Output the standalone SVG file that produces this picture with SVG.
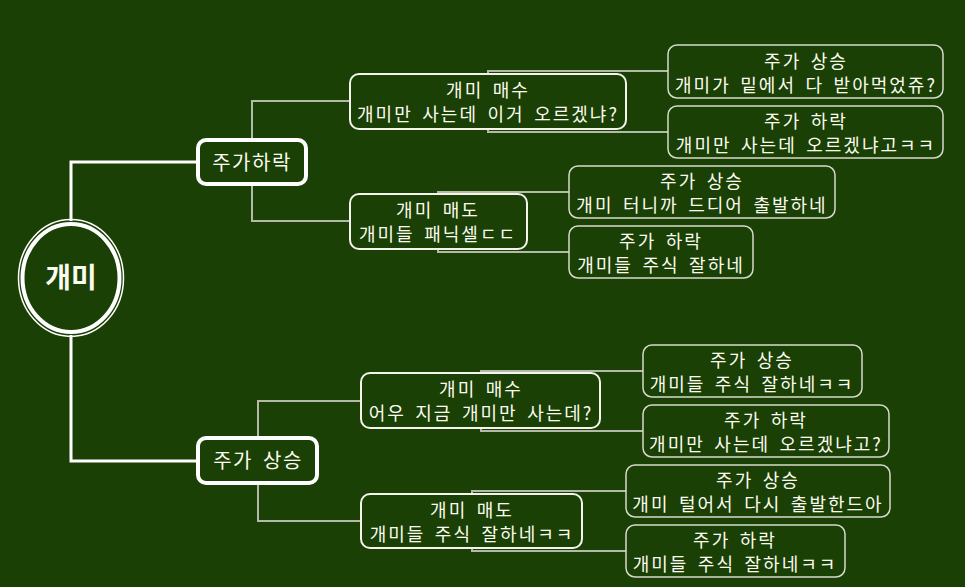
<svg xmlns="http://www.w3.org/2000/svg" width="965" height="587" viewBox="0 0 965 587">
<style>
text{font-family:"Noto Sans CJK KR","Noto Sans",sans-serif;fill:#fbfbf0;text-anchor:middle;dominant-baseline:central}
.t{font-size:18px;letter-spacing:2px;word-spacing:3.5px}
.t1{font-size:20px;letter-spacing:1.5px;word-spacing:4px}
.root{font-size:28px;font-weight:bold}
.b1{fill:#1a4005;stroke:#ffffff;stroke-width:4}
.b2{fill:#1a4005;stroke:#f4f4ec;stroke-width:2}
.b3{fill:#1a4005;stroke:#d6dacb;stroke-width:1.5}
.c0{fill:none;stroke:#ffffff;stroke-width:3}
.c1{fill:none;stroke:#b4baa8;stroke-width:2}
</style>
<rect width="965" height="587" fill="#1a4005"/>
<g id="connectors">
<path class="c0" d="M71,221V162H198M71,335V461H198"/>
<path class="c1" d="M252,140V101H350M252,184V221H350M258,438V401H361M258,483V521H361"/>
<path class="c1" d="M488,74V71H668M488,129V132H668M438,194V192H569M438,249V252H569M481,373V371H643M481,428V431H643M472,494V491H626M472,548V551H626"/>
</g>
<g id="root">
<ellipse cx="71" cy="278" rx="52.5" ry="58.5" fill="none" stroke="#ffffff" stroke-width="1.5"/>
<ellipse cx="71" cy="278" rx="48.5" ry="54" fill="#1a4005" stroke="#ffffff" stroke-width="4"/>
<text class="root" x="71" y="276">개미</text>
</g>
<g id="n-down">
<rect class="b1" x="198" y="140" width="108" height="44" rx="8"/>
<text class="t1" x="252" y="161">주가하락</text>
</g>
<g id="n-up">
<rect class="b1" x="198" y="438" width="119" height="45" rx="8"/>
<text class="t1" x="258" y="459">주가 상승</text>
</g>
<g id="n-down-buy">
<rect class="b2" x="350" y="74" width="276" height="55" rx="9"/>
<text class="t" x="488" y="89">개미 매수</text>
<text class="t" x="488" y="113">개미만 사는데 이거 오르겠냐?</text>
</g>
<g id="n-down-sell">
<rect class="b2" x="350" y="194" width="177" height="55" rx="9"/>
<text class="t" x="438" y="209">개미 매도</text>
<text class="t" x="438" y="233">개미들 패닉셀ㄷㄷ</text>
</g>
<g id="n-up-buy">
<rect class="b2" x="361" y="373" width="239" height="55" rx="9"/>
<text class="t" x="481" y="388">개미 매수</text>
<text class="t" x="481" y="412">어우 지금 개미만 사는데?</text>
</g>
<g id="n-up-sell">
<rect class="b2" x="361" y="494" width="221" height="54" rx="9"/>
<text class="t" x="472" y="509">개미 매도</text>
<text class="t" x="472" y="533">개미들 주식 잘하네ㅋㅋ</text>
</g>
<g id="a1">
<rect class="b3" x="668" y="45" width="275" height="53" rx="9"/>
<text class="t" x="806" y="60">주가 상승</text>
<text class="t" x="806" y="84">개미가 밑에서 다 받아먹었쥬?</text>
</g>
<g id="a2">
<rect class="b3" x="668" y="106" width="275" height="52" rx="9"/>
<text class="t" x="806" y="120">주가 하락</text>
<text class="t" x="806" y="144">개미만 사는데 오르겠냐고ㅋㅋ</text>
</g>
<g id="b1">
<rect class="b3" x="569" y="166" width="266" height="52" rx="9"/>
<text class="t" x="702" y="180">주가 상승</text>
<text class="t" x="702" y="204">개미 터니까 드디어 출발하네</text>
</g>
<g id="b2">
<rect class="b3" x="569" y="226" width="184" height="52" rx="9"/>
<text class="t" x="661" y="240">주가 하락</text>
<text class="t" x="661" y="264">개미들 주식 잘하네</text>
</g>
<g id="c1">
<rect class="b3" x="643" y="345" width="219" height="52" rx="9"/>
<text class="t" x="752" y="359">주가 상승</text>
<text class="t" x="752" y="383">개미들 주식 잘하네ㅋㅋ</text>
</g>
<g id="c2">
<rect class="b3" x="643" y="405" width="246" height="52" rx="9"/>
<text class="t" x="766" y="419">주가 하락</text>
<text class="t" x="766" y="443">개미만 사는데 오르겠냐고?</text>
</g>
<g id="d1">
<rect class="b3" x="626" y="465" width="264" height="52" rx="9"/>
<text class="t" x="758" y="479">주가 상승</text>
<text class="t" x="758" y="503">개미 털어서 다시 출발한드아</text>
</g>
<g id="d2">
<rect class="b3" x="626" y="525" width="219" height="52" rx="9"/>
<text class="t" x="735" y="539">주가 하락</text>
<text class="t" x="735" y="563">개미들 주식 잘하네ㅋㅋ</text>
</g>
</svg>
